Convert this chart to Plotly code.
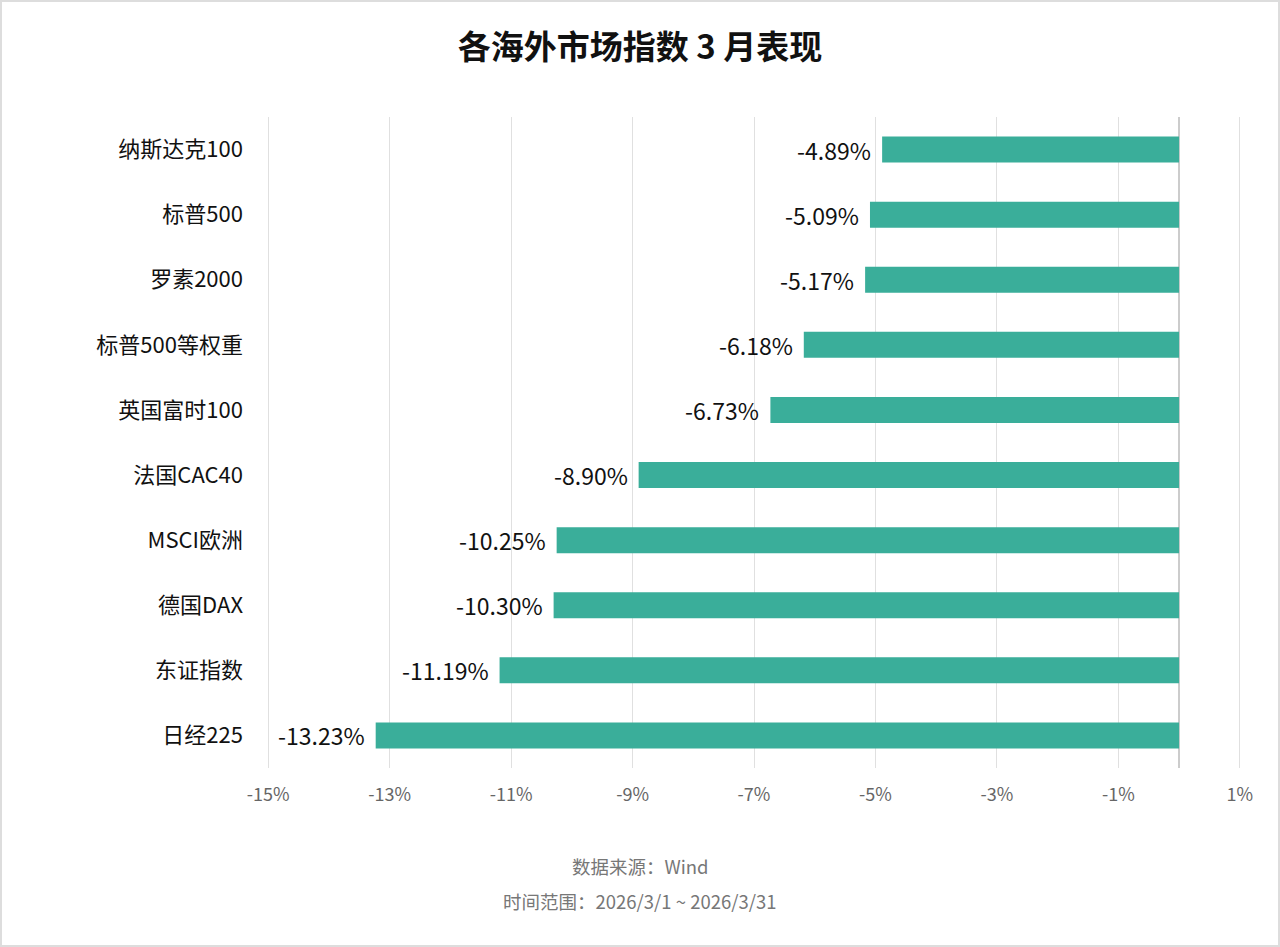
import plotly.graph_objects as go

categories = ["纳斯达克100", "标普500", "罗素2000", "标普500等权重", "英国富时100",
              "法国CAC40", "MSCI欧洲", "德国DAX", "东证指数", "日经225"]
values = [-4.89, -5.09, -5.17, -6.18, -6.73, -8.90, -10.25, -10.30, -11.19, -13.23]
tick_vals = [-15, -13, -11, -9, -7, -5, -3, -1, 1]
tick_text = ["-15%", "-13%", "-11%", "-9%", "-7%", "-5%", "-3%", "-1%", "1%"]
title_text = "各海外市场指数 3 月表现"
source_text = "数据来源：Wind"
range_text = "时间范围：2026/3/1 ~ 2026/3/31"

W, H = 1280, 947
ml, mr, mt, mb = 267, 39, 117, 179
pw, ph = W - ml - mr, H - mt - mb

FONT = "Noto Sans CJK SC"

fig = go.Figure(go.Bar(
    y=categories, x=values, orientation="h",
    marker=dict(color="#3aae9a", line=dict(width=0)),
    width=0.4,
    hoverinfo="x+y",
))

annotations = [
    dict(x=v, y=c, xref="x", yref="y", text=f"{v:.2f}%", showarrow=False,
         xanchor="right", yanchor="middle", xshift=-9,
         font=dict(size=23, color="#111111", family=FONT))
    for c, v in zip(categories, values)
]
annotations += [
    dict(text=source_text, xref="paper", yref="paper",
         x=(W / 2 - ml) / pw, y=-(866 - mt - ph) / ph,
         xanchor="center", yanchor="middle", showarrow=False,
         font=dict(size=18.5, color="#777777", family=FONT)),
    dict(text=range_text, xref="paper", yref="paper",
         x=(W / 2 - ml) / pw, y=-(901 - mt - ph) / ph,
         xanchor="center", yanchor="middle", showarrow=False,
         font=dict(size=18.5, color="#777777", family=FONT)),
]

fig.update_layout(
    width=W, height=H,
    margin=dict(l=ml, r=mr, t=mt, b=mb),
    paper_bgcolor="white", plot_bgcolor="white",
    font=dict(family=FONT),
    showlegend=False,
    title=dict(text="<b>" + title_text + "</b>", x=0.5, xanchor="center",
               xref="container",
               y=1 - 47 / H, yanchor="middle",
               font=dict(size=33, color="#111111", family=FONT)),
    xaxis=dict(range=[-15.02, 1.02], tickvals=tick_vals, ticktext=tick_text,
               showgrid=True, gridcolor="#e0e0e0", gridwidth=1,
               zeroline=True, zerolinecolor="#cccccc", zerolinewidth=2,
               showline=False, ticks="", ticklen=0, ticklabelstandoff=14,
               tickfont=dict(size=18, color="#666666", family=FONT)),
    yaxis=dict(categoryorder="array", categoryarray=categories[::-1],
               autorange=True, showgrid=False, zeroline=False,
               ticks="", ticklabelstandoff=23,
               tickfont=dict(size=22, color="#111111", family=FONT)),
    annotations=annotations,
    shapes=[dict(type="rect", xref="paper", yref="paper",
                 x0=(1 - ml) / pw, x1=(W - 1 - ml) / pw,
                 y0=-(H - 1 - mt - ph) / ph, y1=1 + (mt - 1) / ph,
                 line=dict(color="#dddddd", width=2), layer="below")],
)

fig.write_html("out.html", config={"displayModeBar": False},
               post_script="document.body.style.margin='0';document.body.style.overflow='hidden';")
